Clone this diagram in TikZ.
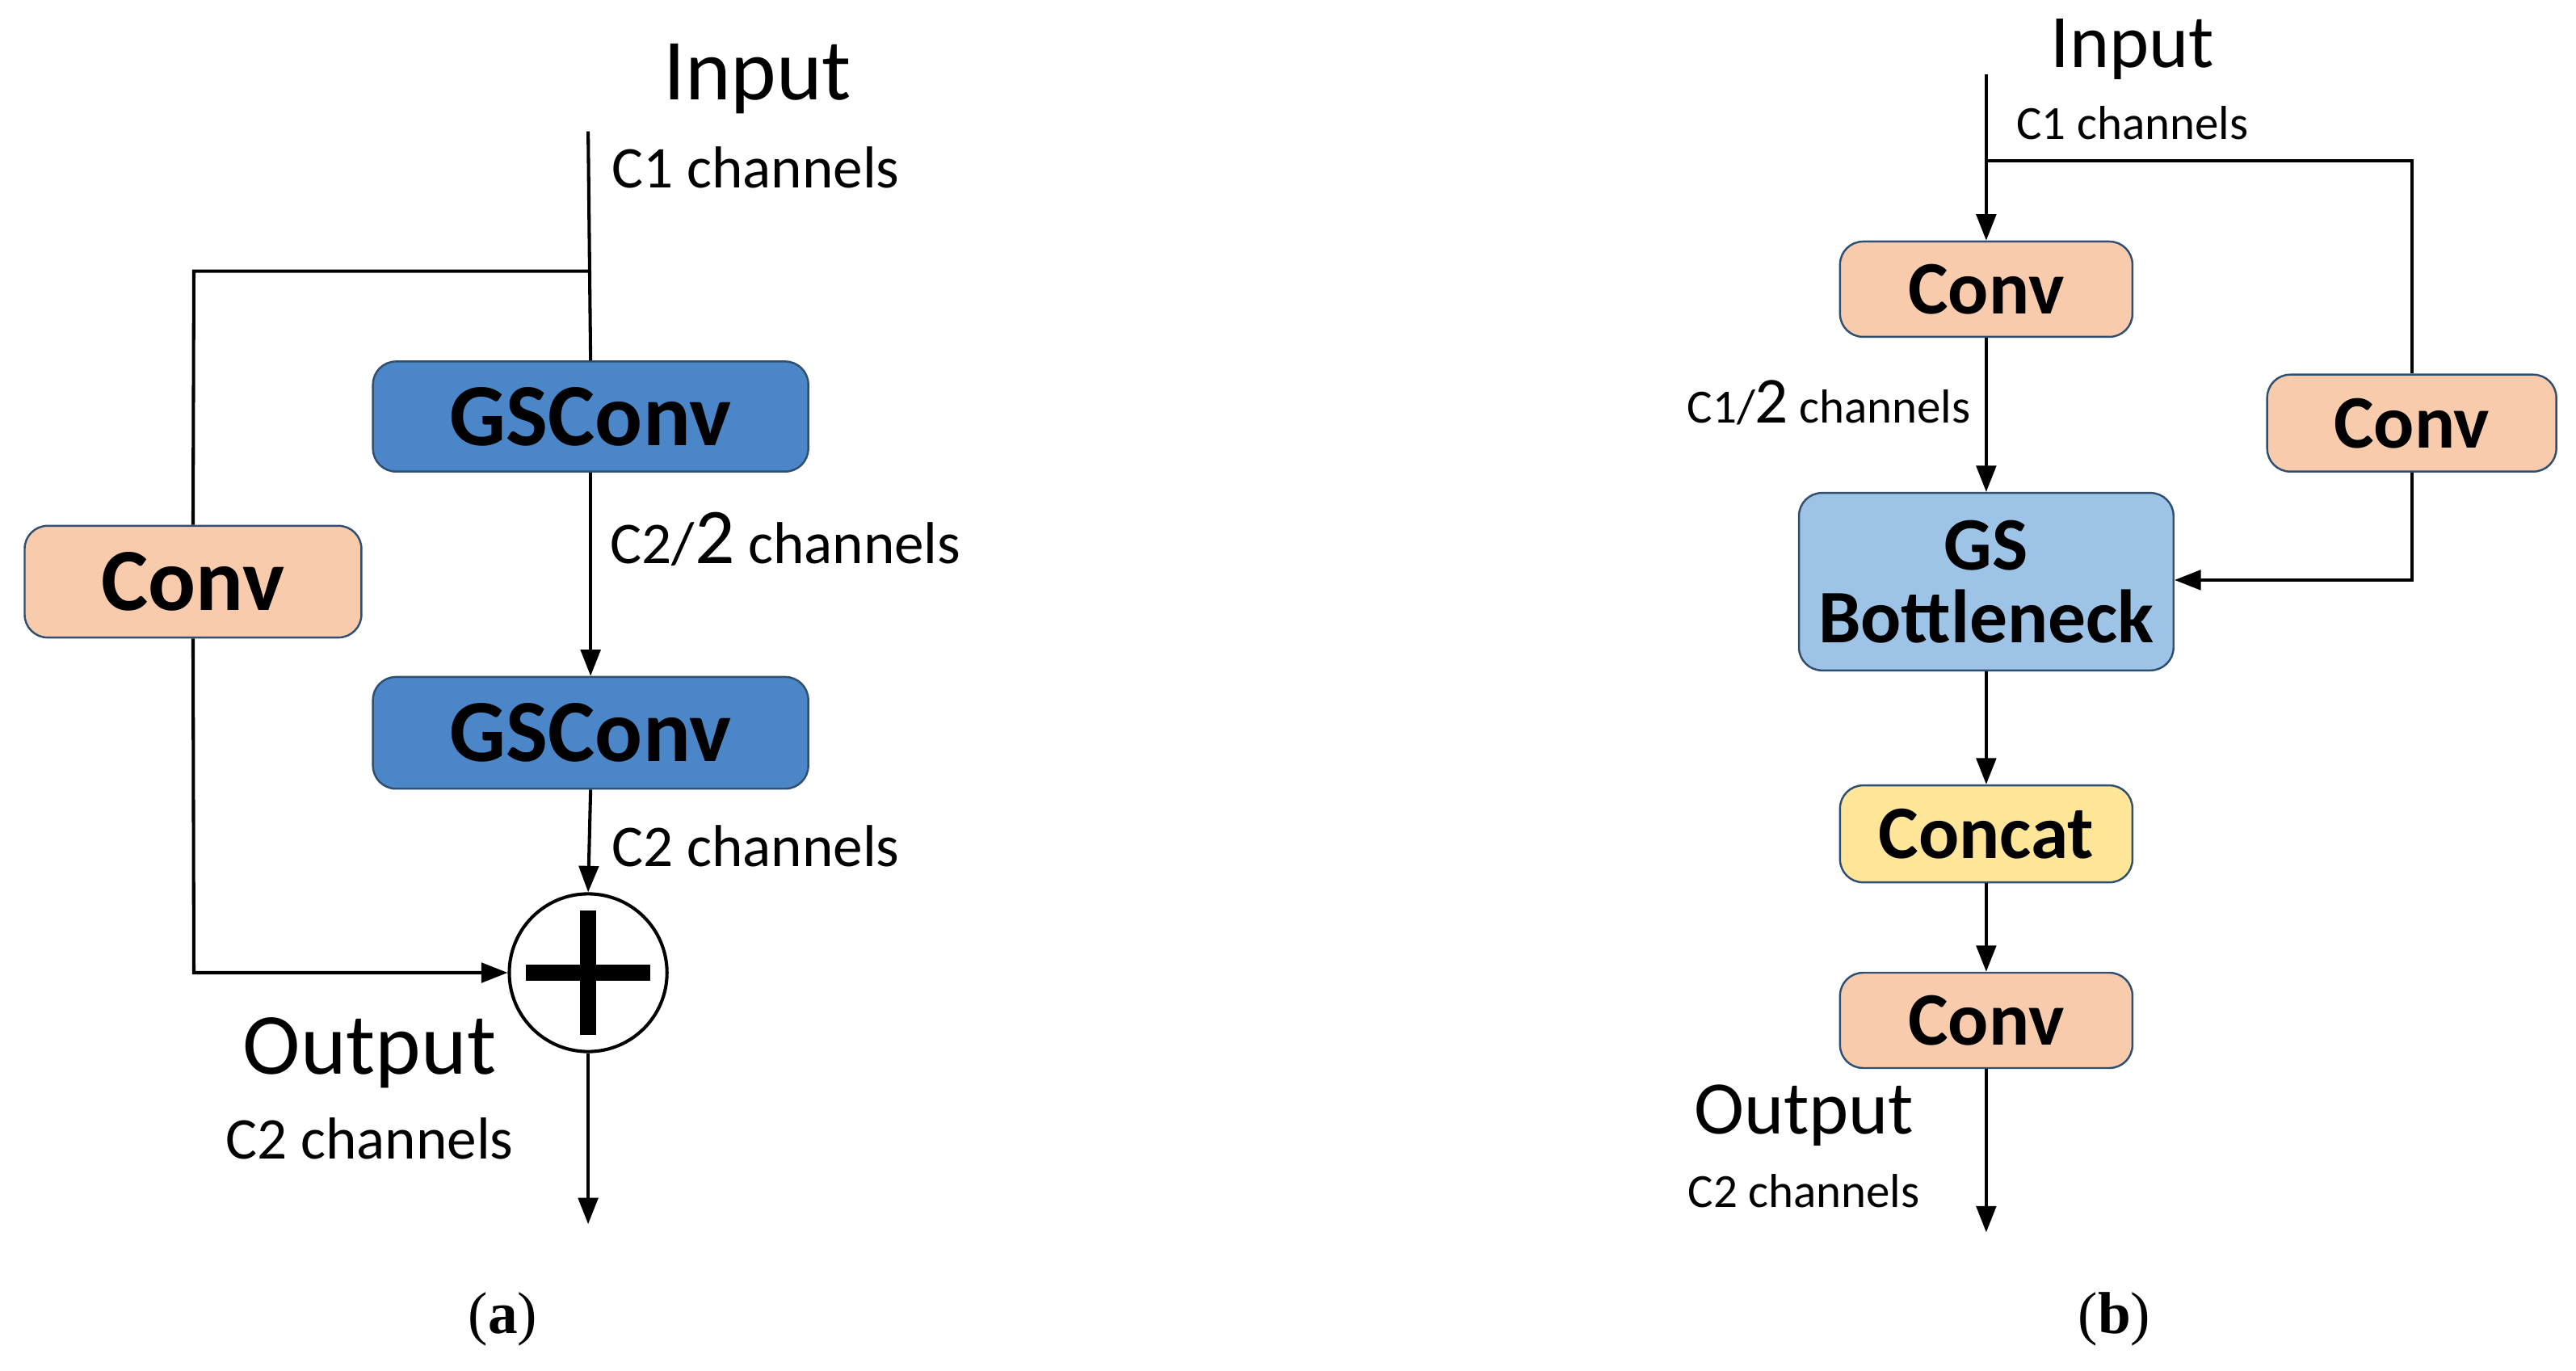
\documentclass[tikz,border=0pt]{standalone}
\usepackage{fontspec}
\setmainfont{Carlito}
\newfontfamily\serifr{Liberation Serif}
\usetikzlibrary{arrows.meta}
\definecolor{gsblue}{HTML}{4A86C8}
\definecolor{lblue}{HTML}{9DC3E6}
\definecolor{peach}{HTML}{F8CBAD}
\definecolor{yel}{HTML}{FFE699}
\definecolor{edge}{HTML}{2F4F70}
\begin{document}
\begin{tikzpicture}[x=1pt,y=-1pt,
 box/.style={draw=edge,line width=1.2pt,rounded corners=14pt,inner sep=0pt,font=\fontsize{46}{46}\selectfont\bfseries,align=center},
 boxa/.style={box,font=\fontsize{54}{54}\selectfont\bfseries},
 ln/.style={line width=2pt,draw=black},
 ar/.style={ln,-{Triangle[length=16pt,width=12pt]}},
 big/.style={font=\fontsize{46}{46}\selectfont},
 biga/.style={font=\fontsize{53}{53}\selectfont},
 sm/.style={font=\fontsize{29}{29}\selectfont},
 sma/.style={font=\fontsize{36}{36}\selectfont}]
\useasboundingbox (0,0) rectangle (1568,834);
% (a)
\node[biga] (inA) at (461,48) {Input};
\node[sma] (c1a) at (460,102) {C1 channels};
\node[boxa,fill=gsblue,minimum width=265pt,minimum height=67pt] (g1) at (359.5,253.5) {GSConv};
\node[boxa,fill=gsblue,minimum width=265pt,minimum height=68pt] (g2) at (359.5,446) {GSConv};
\node[boxa,fill=peach,minimum width=205pt,minimum height=68pt] (cva) at (117.5,354) {Conv};
\node[circle,draw,line width=2pt,minimum size=96pt,inner sep=0pt] (plus) at (358,592) {};
\draw[line width=10pt] (358,554) -- (358,630);
\draw[line width=10pt] (320,592) -- (396,592);
\coordinate (ta) at (358,80);
\coordinate (ba) at (358,165);
\coordinate (la) at (118,165);
\coordinate (lb) at (118,592);
\coordinate (enda) at (358,745);
\draw[ln] (ta) -- (g1.north);
\draw[ln] (ba) -- (la) -- (cva.north);
\draw[ar] (g1.south) -- (g2.north);
\draw[ar] (g2.south) -- (plus.north);
\draw[ar] (cva.south) -- (lb) -- (plus.west);
\draw[ar] (plus.south) -- (enda);
\node[sma,anchor=west] (l1) at (368,328) {C2/{\fontsize{48}{48}\selectfont 2} channels};
\node[sma] (l2) at (460,515) {C2 channels};
\node[biga] (outA) at (225,641) {Output};
\node[sma] (c2a) at (225,693) {C2 channels};
\node[font=\serifr\fontsize{36}{38}\selectfont] (capa) at (306,803) {(\textbf{a})};
% (b)
\node[big] (inB) at (1298,30) {Input};
\node[sm] (c1b) at (1298,75) {C1 channels};
\node[box,fill=peach,minimum width=178pt,minimum height=58pt] (cv1) at (1209,176) {Conv};
\node[box,fill=lblue,minimum width=228pt,minimum height=108pt] (gsb) at (1209,354) {GS\\[-2pt]Bottleneck};
\node[box,fill=peach,minimum width=176pt,minimum height=59pt] (cvr) at (1468,257.5) {Conv};
\node[box,fill=yel,minimum width=178pt,minimum height=59pt] (cc) at (1209,507.5) {Concat};
\node[box,fill=peach,minimum width=178pt,minimum height=58pt] (cv3) at (1209,621) {Conv};
\coordinate (tb) at (1209,45);
\coordinate (bb) at (1209,98);
\coordinate (rb) at (1468,98);
\coordinate (rb2) at (1468,353);
\coordinate (endb) at (1209,750);
\draw[ar] (tb) -- (cv1.north);
\draw[ln] (bb) -- (rb) -- (cvr.north);
\draw[ar] (cv1.south) -- (gsb.north);
\draw[ar] (cvr.south) -- (rb2) -- (gsb.east |- rb2);
\draw[ar] (gsb.south) -- (cc.north);
\draw[ar] (cc.south) -- (cv3.north);
\draw[ar] (cv3.south) -- (endb);
\node[sm,anchor=east] (l3) at (1203,245) {C1/{\fontsize{40}{40}\selectfont 2} channels};
\node[big] (outB) at (1098,679) {Output};
\node[sm] (c2b) at (1098,725) {C2 channels};
\node[font=\serifr\fontsize{36}{38}\selectfont] (capb) at (1287,803) {(\textbf{b})};
\end{tikzpicture}
\end{document}
